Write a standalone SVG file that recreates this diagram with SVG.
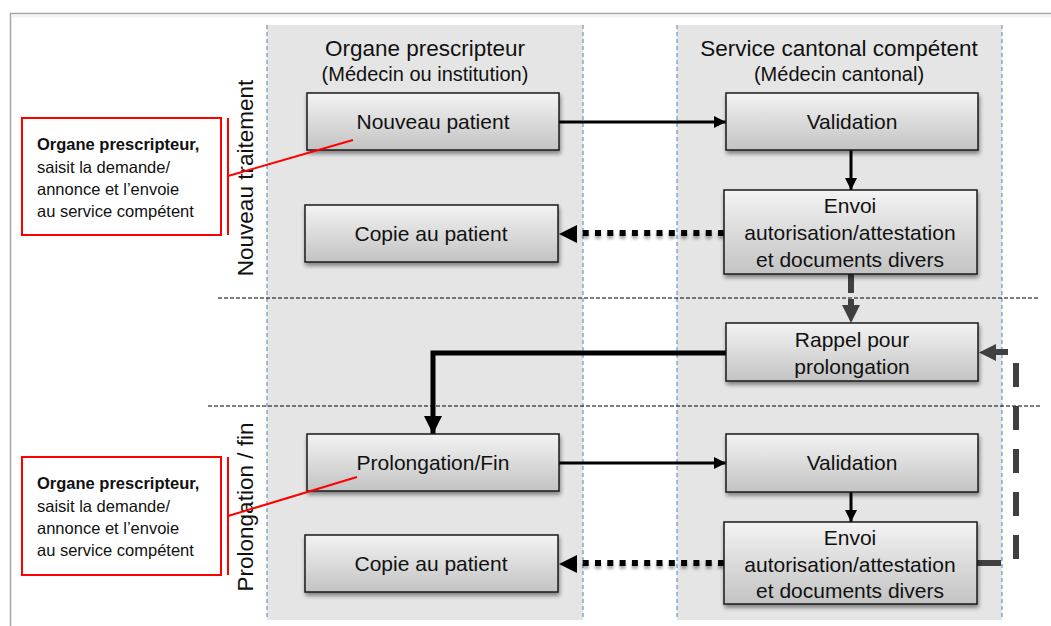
<svg xmlns="http://www.w3.org/2000/svg" width="1051" height="626" viewBox="0 0 1051 626">
<defs>
<linearGradient id="g" x1="0" y1="0" x2="0" y2="1">
<stop offset="0" stop-color="#f3f3f3"/>
<stop offset="1" stop-color="#c3c3c3"/>
</linearGradient>
<filter id="sh" x="-10%" y="-20%" width="120%" height="150%">
<feGaussianBlur in="SourceAlpha" stdDeviation="2"/>
<feOffset dx="1" dy="3" result="b"/>
<feComponentTransfer><feFuncA type="linear" slope="0.45"/></feComponentTransfer>
<feMerge><feMergeNode/><feMergeNode in="SourceGraphic"/></feMerge>
</filter>
<filter id="shl" filterUnits="userSpaceOnUse" x="0" y="0" width="1051" height="626">
<feGaussianBlur in="SourceAlpha" stdDeviation="1.5"/>
<feOffset dx="0" dy="3" result="b"/>
<feComponentTransfer><feFuncA type="linear" slope="0.35"/></feComponentTransfer>
<feMerge><feMergeNode/><feMergeNode in="SourceGraphic"/></feMerge>
</filter>
<marker id="ab" markerUnits="userSpaceOnUse" viewBox="0 0 12 12" refX="12" refY="6" markerWidth="12" markerHeight="12" orient="auto"><path d="M0,0 L12,6 L0,12 Z" fill="#000"/></marker>
<marker id="abig" markerUnits="userSpaceOnUse" viewBox="0 0 18 18" refX="18" refY="9" markerWidth="18" markerHeight="18" orient="auto"><path d="M0,0 L18,9 L0,18 Z" fill="#000"/></marker>
</defs>
<style>
.t{font-family:"Liberation Sans",Arial,sans-serif;fill:#111;}
.node rect{fill:url(#g);stroke:#1a1a1a;stroke-width:1.5;filter:url(#sh);}
.node text{font-size:21px;text-anchor:middle;}
.lane{fill:#e5e5e5;}
.vl{stroke:#4f81bd;stroke-width:1;stroke-dasharray:4 3;fill:none;}
.hl{stroke:#000;stroke-width:1;stroke-dasharray:4 2;fill:none;}
.call rect{fill:#fff;stroke:#f00;stroke-width:2;}
.call line{stroke:#f00;stroke-width:2;}
.call text{font-size:16.5px;}
.solid{stroke:#000;fill:none;}
.dot{stroke:#000;stroke-width:6;stroke-dasharray:6 6.3;fill:none;}
.gray{stroke:#404040;fill:none;}
</style>
<rect x="0" y="0" width="1051" height="626" fill="#fff"/>
<path d="M10.5,626 V13.5 H1051" fill="none" stroke="#a6a6a6" stroke-width="1.5"/>
<rect x="11.5" y="14.5" width="1040" height="3" fill="#f3f3f3"/>
<g id="lanes">
<rect class="lane" x="267" y="25" width="316" height="595"/>
<rect class="lane" x="677" y="25" width="325" height="595"/>
<line class="vl" x1="267" y1="25" x2="267" y2="620"/>
<line class="vl" x1="583" y1="25" x2="583" y2="620"/>
<line class="vl" x1="677" y1="25" x2="677" y2="620"/>
<line class="vl" x1="1002" y1="25" x2="1002" y2="620"/>
</g>
<g id="separators">
<line class="hl" x1="218" y1="298" x2="1040" y2="298"/>
<line class="hl" x1="208" y1="406" x2="1040" y2="406"/>
</g>
<g id="headers" class="t">
<text x="425" y="56" font-size="22.5" text-anchor="middle">Organe prescripteur</text>
<text x="425" y="81" font-size="20" text-anchor="middle">(Médecin ou institution)</text>
<text x="839" y="56" font-size="22.5" text-anchor="middle">Service cantonal compétent</text>
<text x="839" y="81" font-size="20" text-anchor="middle">(Médecin cantonal)</text>
</g>
<g id="phases" class="t">
<text transform="translate(253,178) rotate(-90)" font-size="22.5" text-anchor="middle">Nouveau traitement</text>
<text transform="translate(253,507) rotate(-90)" font-size="22.5" text-anchor="middle">Prolongation / fin</text>
</g>
<g id="connectors">
<path class="solid" stroke-width="3" d="M558,122 H726" marker-end="url(#ab)"/>
<path class="solid" stroke-width="3" d="M851,150 V190" marker-end="url(#ab)"/>
<path class="dot" filter="url(#shl)" d="M724,233 H576"/>
<path d="M577,225 L559,234 L577,243 Z" fill="#000"/>
<path class="gray" stroke-width="6" stroke-dasharray="19 6" d="M851,274 V306"/>
<path d="M842,305 L860,305 L851,323 Z" fill="#404040"/>
<path class="solid" stroke-width="5" d="M726,353 H433 V434" marker-end="url(#abig)"/>
<path class="solid" stroke-width="3" d="M559,463 H726" marker-end="url(#ab)"/>
<path class="solid" stroke-width="3" d="M851,492 V522" marker-end="url(#ab)"/>
<path class="dot" filter="url(#shl)" d="M724,563 H576"/>
<path d="M577,555 L559,564 L577,573 Z" fill="#000"/>
<path class="gray" stroke-width="6" stroke-dasharray="24 19" d="M977,563 H1016 V352 H992"/>
<path d="M996,344 L979,352.5 L996,361 Z" fill="#404040"/>
</g>
<g id="n1" class="node t"><rect x="307" y="93" width="252" height="57"/><text x="433" y="129">Nouveau patient</text></g>
<g id="n2" class="node t"><rect x="726" y="93" width="252" height="57"/><text x="852" y="129">Validation</text></g>
<g id="n3" class="node t"><rect x="724" y="190" width="253" height="84"/><text x="850" y="213">Envoi</text><text x="850" y="240">autorisation/attestation</text><text x="850" y="267">et documents divers</text></g>
<g id="n4" class="node t"><rect x="305" y="205" width="253" height="57"/><text x="431" y="241">Copie au patient</text></g>
<g id="n5" class="node t"><rect x="726" y="323" width="252" height="58"/><text x="852" y="347">Rappel pour</text><text x="852" y="374">prolongation</text></g>
<g id="n6" class="node t"><rect x="307" y="434" width="252" height="57"/><text x="433" y="470">Prolongation/Fin</text></g>
<g id="n7" class="node t"><rect x="726" y="434" width="252" height="58"/><text x="852" y="470">Validation</text></g>
<g id="n8" class="node t"><rect x="724" y="522" width="253" height="82"/><text x="850" y="545">Envoi</text><text x="850" y="572">autorisation/attestation</text><text x="850" y="598">et documents divers</text></g>
<g id="n9" class="node t"><rect x="305" y="535" width="253" height="57"/><text x="431" y="571">Copie au patient</text></g>
<g id="c1" class="call t">
<rect x="22" y="118" width="199" height="117"/>
<line x1="228" y1="118" x2="228" y2="235"/>
<line x1="228" y1="176" x2="353" y2="140"/>
<text x="37" y="150" font-weight="bold">Organe prescripteur,</text>
<text x="37" y="173">saisit la demande/</text>
<text x="37" y="195">annonce et l’envoie</text>
<text x="37" y="217">au service compétent</text>
</g>
<g id="c2" class="call t">
<rect x="22" y="457" width="199" height="118"/>
<line x1="228" y1="457" x2="228" y2="575"/>
<line x1="228" y1="516" x2="357" y2="477"/>
<text x="37" y="489" font-weight="bold">Organe prescripteur,</text>
<text x="37" y="512">saisit la demande/</text>
<text x="37" y="534">annonce et l’envoie</text>
<text x="37" y="556">au service compétent</text>
</g>
</svg>
